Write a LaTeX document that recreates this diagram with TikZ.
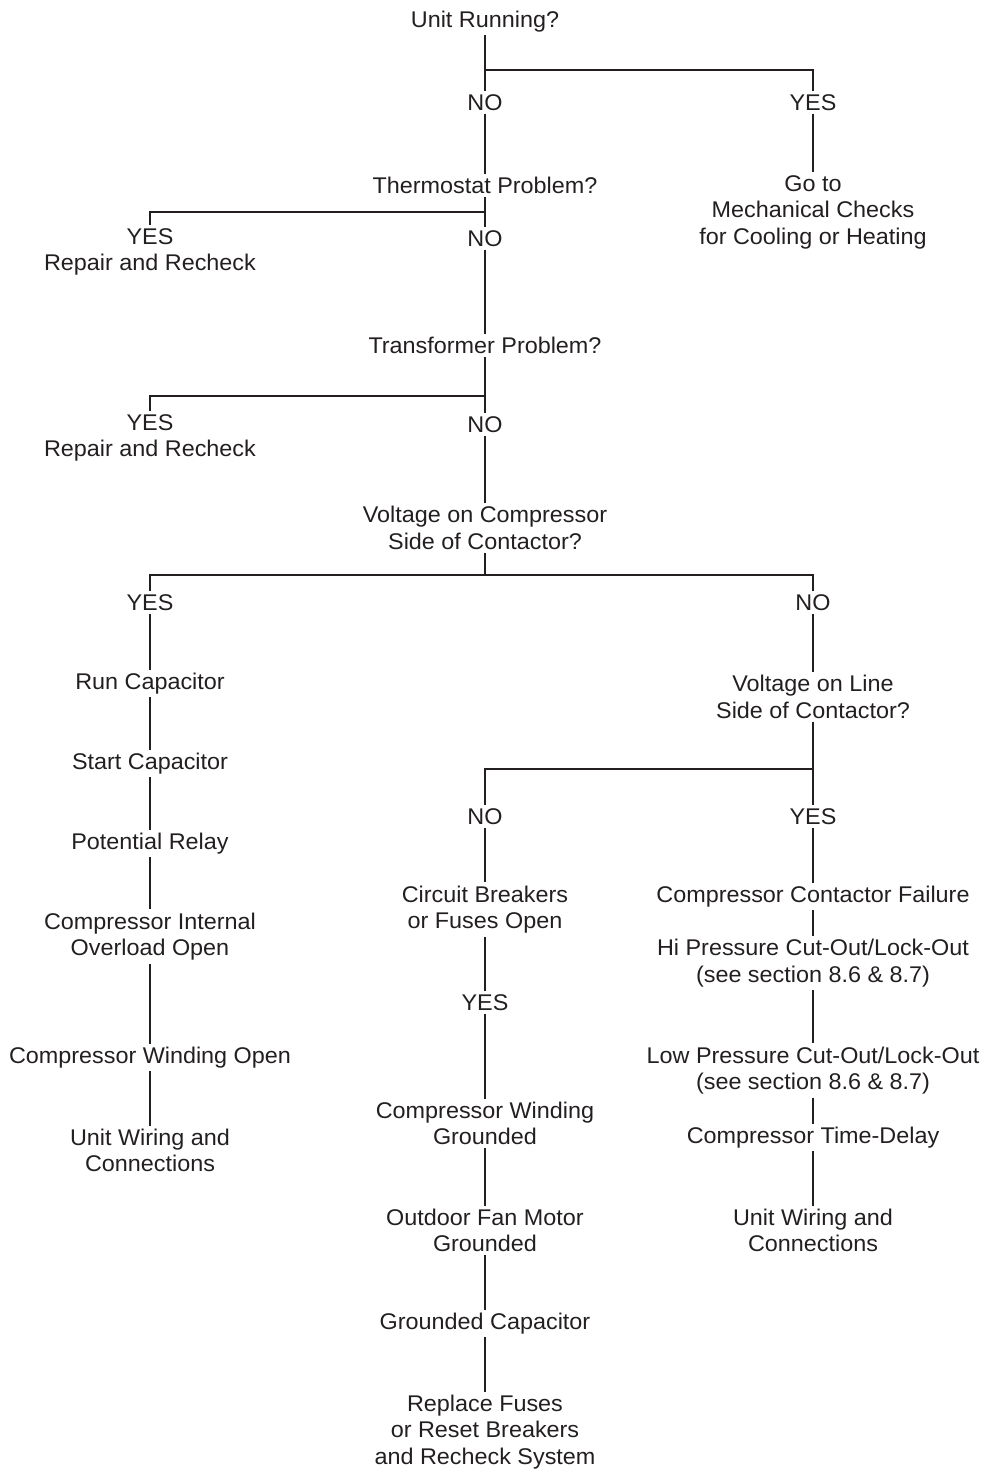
\documentclass[tikz,border=0pt]{standalone}
\usepackage{fontspec}
\setmainfont{Liberation Sans}[FakeStretch=1.03]
\definecolor{ink}{RGB}{35,31,32}
\begin{document}
\begin{tikzpicture}[x=1pt,y=-1pt,
  lbl/.style={inner xsep=2pt,inner ysep=3pt,align=center,text=ink,yshift=-1.5pt,
    font=\fontsize{22.7}{26.5}\selectfont},
  mlbl/.style={lbl},
  conn/.style={draw=ink,line width=1.1pt}]
\useasboundingbox (0,0) rectangle (985,1469);
% top
\node[lbl] (unit) at (485,20) {Unit Running?};
\node[lbl] (no1) at (485,101) {NO};
\node[lbl] (yes1) at (813,101) {YES};
\node[mlbl] (goto) at (813,210.5) {Go to\\Mechanical Checks\\for Cooling or Heating};
\node[lbl] (thermo) at (485,184) {Thermostat Problem?};
\node[mlbl] (yes2) at (150,250.5) {YES\\Repair and Recheck};
\node[lbl] (no2) at (485,237) {NO};
\node[lbl] (trans) at (485,344) {Transformer Problem?};
\node[mlbl] (yes3) at (150,436.5) {YES\\Repair and Recheck};
\node[lbl] (no3) at (485,423) {NO};
\node[mlbl] (vc) at (485,526.5) {Voltage on Compressor\\Side of Contactor?};
\node[lbl] (yesL) at (150,601) {YES};
\node[lbl] (noR) at (813,601) {NO};
% left chain
\node[lbl] (runcap) at (150,682) {Run Capacitor};
\node[lbl] (startcap) at (150,762) {Start Capacitor};
\node[lbl] (potrel) at (150,842) {Potential Relay};
\node[mlbl] (cio) at (150,935) {Compressor Internal\\Overload Open};
\node[lbl] (cwo) at (150,1056) {Compressor Winding Open};
\node[mlbl] (uwL) at (150,1149) {Unit Wiring and\\Connections};
% right
\node[mlbl] (vl) at (813,695.5) {Voltage on Line\\Side of Contactor?};
\node[lbl] (noM) at (485,815) {NO};
\node[lbl] (yesR) at (813,815) {YES};
% middle chain
\node[mlbl] (cb) at (485,908) {Circuit Breakers\\or Fuses Open};
\node[lbl] (yesM) at (485,1001) {YES};
\node[mlbl] (cwg) at (485,1122) {Compressor Winding\\Grounded};
\node[mlbl] (ofm) at (485,1229) {Outdoor Fan Motor\\Grounded};
\node[lbl] (gc) at (485,1322) {Grounded Capacitor};
\node[mlbl] (rf) at (485,1430.5) {Replace Fuses\\or Reset Breakers\\and Recheck System};
% right chain
\node[lbl] (ccf) at (813,895) {Compressor Contactor Failure};
\node[mlbl] (hp) at (813,961.5) {Hi Pressure Cut-Out/Lock-Out\\(see section 8.6 \& 8.7)};
\node[mlbl] (lp) at (813,1069) {Low Pressure Cut-Out/Lock-Out\\(see section 8.6 \& 8.7)};
\node[lbl] (ctd) at (813,1136) {Compressor Time-Delay};
\node[mlbl] (uwR) at (813,1229) {Unit Wiring and\\Connections};
% junctions
\coordinate (j1) at (485,70);
\coordinate (j2) at (485,212);
\coordinate (j3) at (485,396);
\coordinate (j4) at (485,575);
\coordinate (j5) at (813,769);
% connectors
\draw[conn] (unit) -- (no1);
\draw[conn] (j1) -| (yes1);
\draw[conn] (yes1) -- (goto);
\draw[conn] (no1) -- (thermo);
\draw[conn] (thermo) -- (no2);
\draw[conn] (j2) -| (yes2);
\draw[conn] (no2) -- (trans);
\draw[conn] (trans) -- (no3);
\draw[conn] (j3) -| (yes3);
\draw[conn] (no3) -- (vc);
\draw[conn] (vc) -- (j4);
\draw[conn] (j4) -| (yesL);
\draw[conn] (j4) -| (noR);
\draw[conn] (yesL) -- (runcap);
\draw[conn] (runcap) -- (startcap);
\draw[conn] (startcap) -- (potrel);
\draw[conn] (potrel) -- (cio);
\draw[conn] (cio) -- (cwo);
\draw[conn] (cwo) -- (uwL);
\draw[conn] (noR) -- (vl);
\draw[conn] (vl) -- (yesR);
\draw[conn] (j5) -| (noM);
\draw[conn] (noM) -- (cb);
\draw[conn] (cb) -- (yesM);
\draw[conn] (yesM) -- (cwg);
\draw[conn] (cwg) -- (ofm);
\draw[conn] (ofm) -- (gc);
\draw[conn] (gc) -- (rf);
\draw[conn] (yesR) -- (ccf);
\draw[conn] (ccf) -- (hp);
\draw[conn] (hp) -- (lp);
\draw[conn] (lp) -- (ctd);
\draw[conn] (ctd) -- (uwR);
\end{tikzpicture}
\end{document}
